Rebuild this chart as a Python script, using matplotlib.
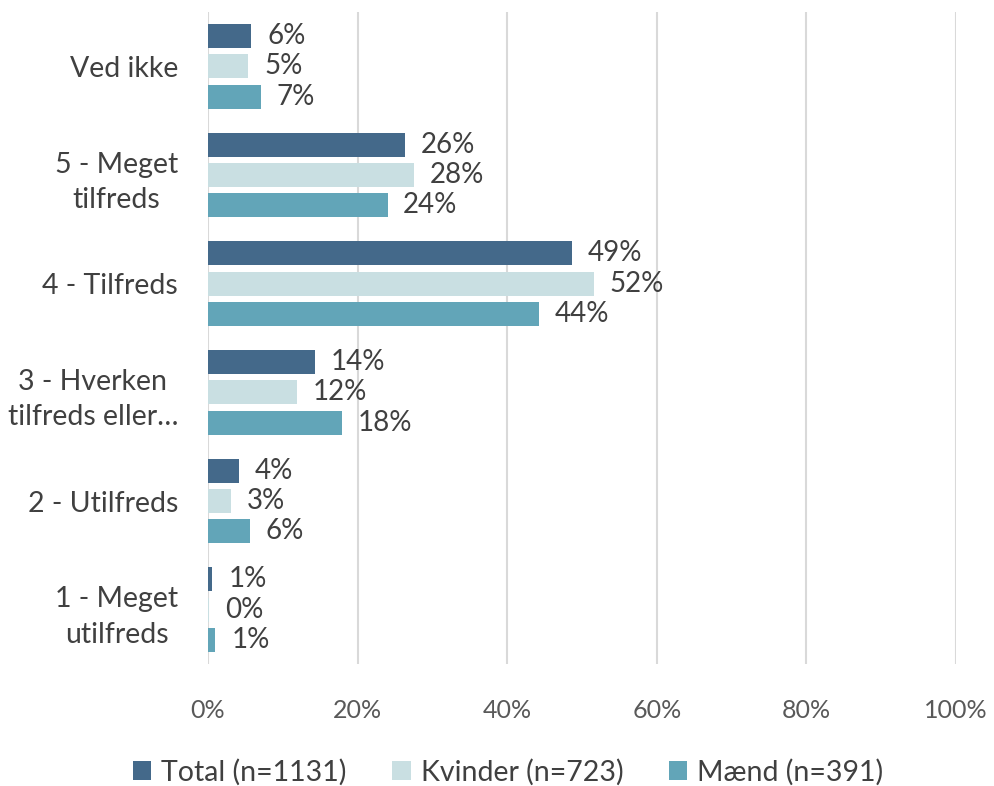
import matplotlib
matplotlib.use("Agg")
import matplotlib.pyplot as plt
import numpy as np
from matplotlib.patches import Patch

categories = ["Ved ikke", "5 - Meget\ntilfreds", "4 - Tilfreds",
              "3 - Hverken\ntilfreds eller…", "2 - Utilfreds", "1 - Meget\nutilfreds"]
series_names = ["Total (n=1131)", "Kvinder (n=723)", "Mænd (n=391)"]
total = [5.8, 26.4, 48.7, 14.3, 4.1, 0.6]
kvinder = [5.4, 27.6, 51.6, 11.9, 3.1, 0.2]
maend = [7.1, 24.0, 44.3, 17.9, 5.6, 1.0]
xticks = [0, 20, 40, 60, 80, 100]
colors = ["#44698A", "#C9DFE2", "#62A5B8"]

plt.rcParams['font.family'] = ['Lato', 'DejaVu Sans']
fig = plt.figure(figsize=(9.95, 7.86), dpi=100)
ax = fig.add_axes([208/995, 1-664/786, (956-208)/995, (664-12)/786])

y = np.arange(len(categories))
h = 0.22
pitch = 0.28
for i, (vals, c) in enumerate(zip([total, kvinder, maend], colors)):
    pos = y + (i - 1) * pitch
    bars = ax.barh(pos, vals, height=h, color=c, zorder=3)
    for b, v in zip(bars, vals):
        ax.text(v + 2.1, b.get_y() + b.get_height() / 2, f"{int(round(v + 1e-9))}%",
                va='center', ha='left', fontsize=20, color='#404040', zorder=4)

ax.set_xlim(0, 100)
ax.set_ylim(len(categories) - 0.5, -0.5)
ax.set_xticks(xticks)
ax.set_xticklabels([f"{t}%" for t in xticks], fontsize=18, color='#595959')
ax.set_yticks(y)
ax.set_yticklabels(categories, fontsize=20.5, color='#404040',
                   multialignment='center', linespacing=1.45)
ax.tick_params(axis='both', length=0)
ax.tick_params(axis='y', pad=21.5)
ax.tick_params(axis='x', pad=25)
ax.grid(axis='x', color='#D9D9D9', linewidth=1.5, zorder=0)
for s in ax.spines.values():
    s.set_visible(False)

handles = [Patch(facecolor=c, edgecolor='none') for c in colors]
fig.legend(handles, series_names, loc='center', bbox_to_anchor=(508/995, 1-772/786),
           ncol=3, frameon=False, fontsize=20.5, labelcolor='#404040',
           handlelength=0.65, handleheight=0.65, handletextpad=0.35, columnspacing=1.6)

fig.savefig("out.png", dpi=100)
